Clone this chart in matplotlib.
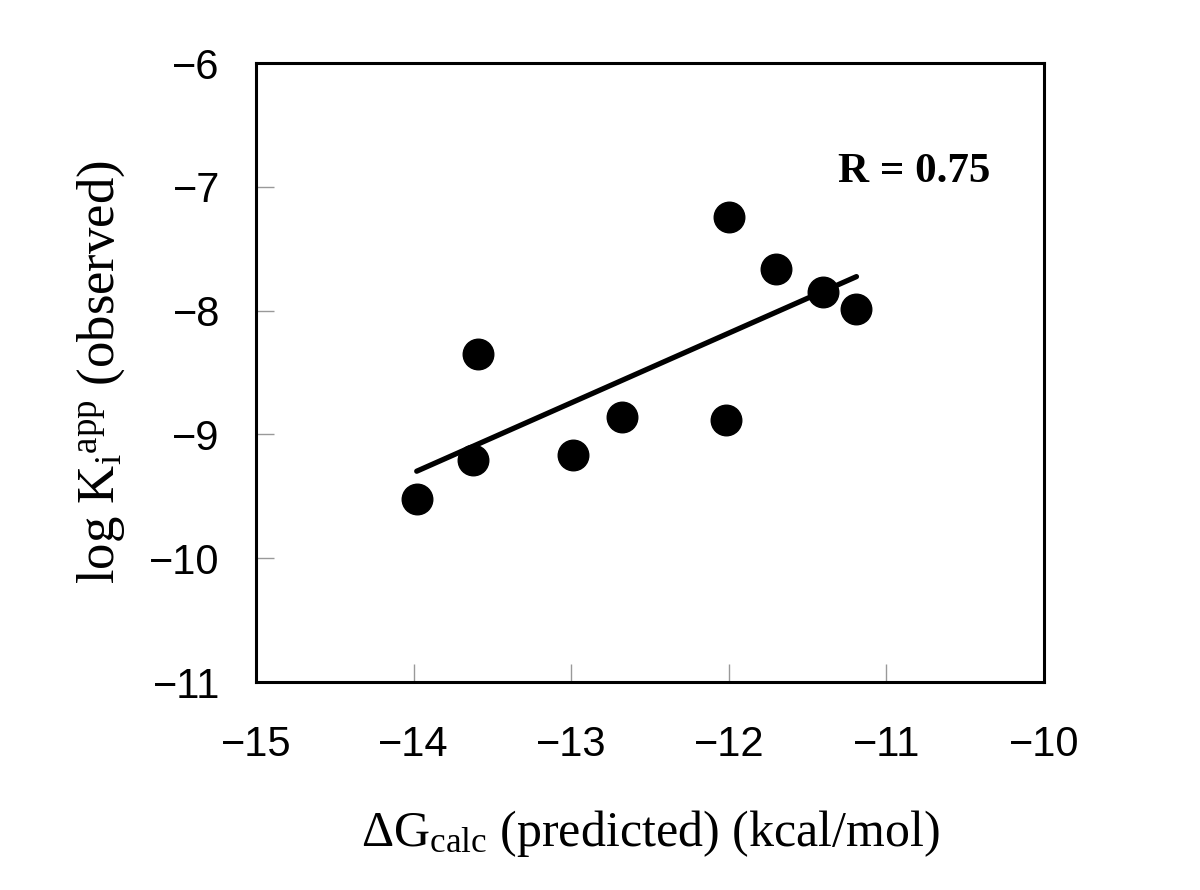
import numpy as np
import matplotlib
matplotlib.use("Agg")
import matplotlib.pyplot as plt

# values
dg_calc = [-13.98, -13.62, -13.59, -12.99, -12.68, -12.02, -12.00, -11.70, -11.40, -11.19]
log_ki = [-9.52, -9.21, -8.35, -9.17, -8.86, -8.88, -7.24, -7.66, -7.85, -7.99]
r_value = 0.75

x_ticks = [-15, -14, -13, -12, -11, -10]
y_ticks = [-11, -10, -9, -8, -7, -6]

plt.rcParams['mathtext.fontset'] = 'custom'
plt.rcParams['mathtext.rm'] = 'Liberation Serif'
plt.rcParams['mathtext.it'] = 'Liberation Serif:italic'
plt.rcParams['mathtext.bf'] = 'Liberation Serif:bold'

fig = plt.figure(figsize=(12, 8.9), dpi=100)
ax = fig.add_axes([0.2133, 0.2337, 0.6567, 0.6955])

ax.plot(dg_calc, log_ki, 'o', color='black', markersize=22, zorder=3)

# least squares line over the data range
slope, intercept = np.polyfit(dg_calc, log_ki, 1)
xs = np.array([min(dg_calc), max(dg_calc)])
ax.plot(xs, slope * xs + intercept, color='black', linewidth=3.8,
        solid_capstyle='round', zorder=2)

ax.set_xlim(-15, -10)
ax.set_ylim(-11, -6)
ax.set_xticks(x_ticks)
ax.set_yticks(y_ticks)
ax.set_xticklabels([f'\u2212{abs(t)}' for t in x_ticks])
ax.set_yticklabels([f'\u2212{abs(t)}' for t in y_ticks])

ax.tick_params(direction='in', length=13, width=1, color='#999999')
ax.tick_params(axis='x', pad=31)
ax.tick_params(axis='y', pad=26)
for lab in ax.get_xticklabels() + ax.get_yticklabels():
    lab.set_fontfamily('Liberation Sans')
    lab.set_fontsize(30)

for sp in ax.spines.values():
    sp.set_linewidth(2.2)

ax.set_xlabel(r'$\Delta\mathrm{G_{calc}}$ (predicted) (kcal/mol)',
              fontfamily='Liberation Serif', fontsize=36, labelpad=31)
ax.set_ylabel(r'log K$_\mathrm{i}$$^\mathrm{app}$ (observed)',
              fontfamily='Liberation Serif', fontsize=38, labelpad=16)

ax.text(0.739, 0.824, f'R = {r_value:.2f}', transform=ax.transAxes,
        fontfamily='Liberation Serif', fontweight='bold', fontsize=31,
        ha='left', va='center')

fig.savefig('out.png', dpi=100)
